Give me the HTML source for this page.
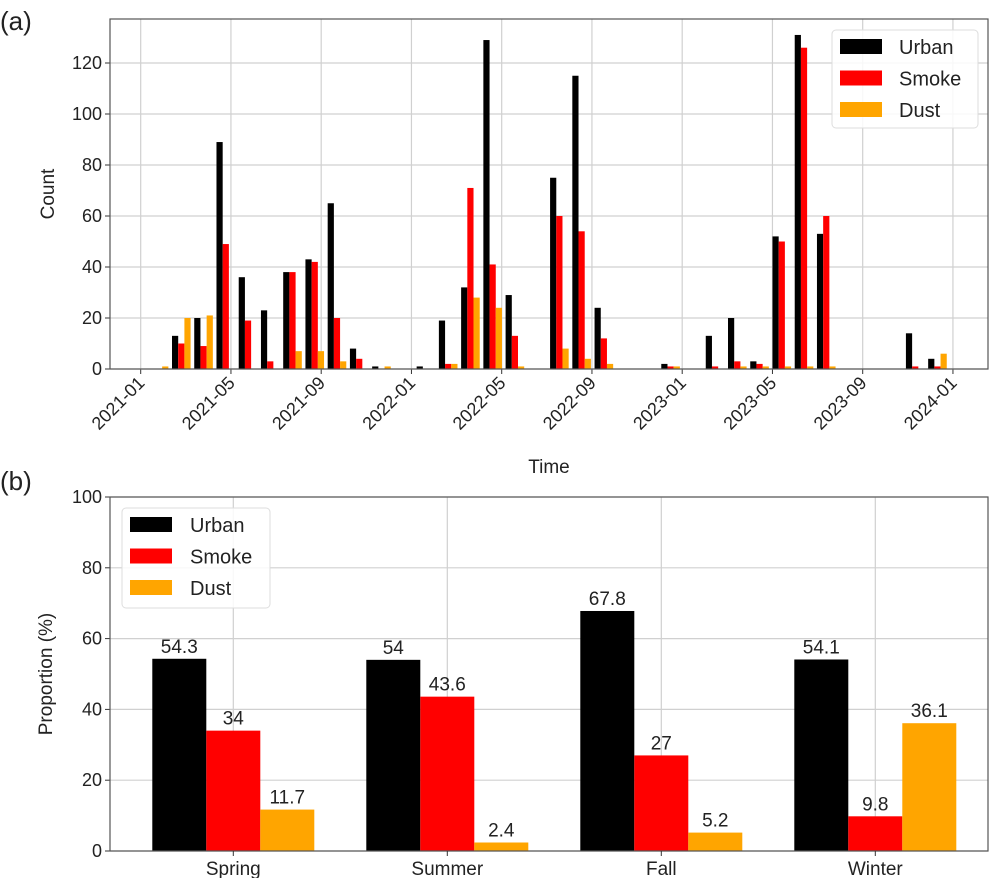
<!DOCTYPE html>
<html><head><meta charset="utf-8"><style>
body{margin:0;background:#fff;}
svg{display:block;font-family:"Liberation Sans","DejaVu Sans",sans-serif;}
</style></head><body>
<svg id="fig" width="1004" height="878" viewBox="0 0 1004 878">
<text x="0" y="30" font-size="26" fill="#222">(a)</text>
<text x="0" y="490" font-size="26" fill="#222">(b)</text>
<g id="topchart"></g>
<g id="botchart"></g>
</svg>
<script>
// ---- Panel (a) data ----
const monthIdx = [1,2,3,4,5,6,7,8,9,10,11,13,14,15,16,17,19,20,21,24,26,27,28,29,30,31,35,36];
const urbanCounts = [0,13,20,89,36,23,38,43,65,8,1,1,19,32,129,29,75,115,24,2,13,20,3,52,131,53,14,4];
const smokeCounts = [0,10,9,49,19,3,38,42,20,4,0,0,2,71,41,13,60,54,12,1,1,3,2,50,126,60,1,1];
const dustCounts  = [1,20,21,0,0,0,7,7,3,0,1,0,2,28,24,1,8,4,2,1,0,1,1,1,1,1,0,6];
const countTicks = [0,20,40,60,80,100,120];
const timeTickLabels = ["2021-01","2021-05","2021-09","2022-01","2022-05","2022-09","2023-01","2023-05","2023-09","2024-01"];
// ---- Panel (b) data ----
const seasons = ["Spring","Summer","Fall","Winter"];
const urbanPct = [54.3,54,67.8,54.1];
const smokePct = [34,43.6,27,9.8];
const dustPct  = [11.7,2.4,5.2,36.1];
const pctTicks = [0,20,40,60,80,100];

const NS="http://www.w3.org/2000/svg";
function mk(parent,tag,attrs,text){const e=document.createElementNS(NS,tag);for(const k in attrs)e.setAttribute(k,attrs[k]);if(text!==undefined)e.textContent=text;parent.appendChild(e);return e;}
const colors=["#000000","#ff0000","#ffa500"];
const names=["Urban","Smoke","Dust"];

// ---- Panel (a) ----
const topG=document.getElementById('topchart');
const A={l:110,r:988,t:19,b:369};
const yA=v=>A.b-v*2.55;
const xMonth=m=>181.3+(m-2)*22.24;
const xTimeTick=i=>140.7+i*90.25;
for(let i=0;i<timeTickLabels.length;i++){
  const x=xTimeTick(i);
  const g=mk(topG,'line',{x1:x,x2:x,y1:A.t,y2:A.b,stroke:'#d0d0d0','stroke-width':1.2});
  
  
  mk(topG,'line',{x1:x,x2:x,y1:A.b,y2:A.b+5,stroke:'#333'});
  const t=mk(topG,'text',{x:x+5,y:A.b+15,'font-size':18,fill:'#222','text-anchor':'end',transform:`rotate(-45 ${x+5} ${A.b+15})`},timeTickLabels[i]);
  
  
}
for(const v of countTicks){
  const y=yA(v);
  const g=mk(topG,'line',{x1:A.l,x2:A.r,y1:y,y2:y,stroke:'#d0d0d0','stroke-width':1.2});
  
  
  mk(topG,'line',{x1:A.l-5,x2:A.l,y1:y,y2:y,stroke:'#333'});
  const t=mk(topG,'text',{x:A.l-8,y:y+6,'font-size':18,fill:'#222','text-anchor':'end'},String(v));
  
  
}
const seriesA=[urbanCounts,smokeCounts,dustCounts];
for(let s=0;s<3;s++){
  for(let i=0;i<monthIdx.length;i++){
    const v=seriesA[s][i]; if(!v) continue;
    const cx=xMonth(monthIdx[i])+(s-1)*6.2;
    const r=mk(topG,'rect',{x:cx-3.1,y:yA(v),width:6.2,height:A.b-yA(v),fill:colors[s]});
    
    
  }
}
mk(topG,'rect',{x:A.l,y:A.t,width:A.r-A.l,height:A.b-A.t,fill:'none',stroke:'#555','stroke-width':1.2});
let t=mk(topG,'text',{x:54,y:194,'font-size':19,fill:'#222','text-anchor':'middle',transform:'rotate(-90 54 194)'},'Count');


t=mk(topG,'text',{x:549,y:473,'font-size':19,fill:'#222','text-anchor':'middle'},'Time');


let lg=mk(topG,'g',{});


mk(lg,'rect',{x:832,y:30,width:146,height:98,rx:4,fill:'#fff','fill-opacity':0.85,stroke:'#ddd'});
for(let s=0;s<3;s++){
  const y=39+s*31.5;
  const e=mk(lg,'g',{});
  
  
  mk(e,'rect',{x:840,y:y,width:42,height:15,fill:colors[s]});
  mk(e,'text',{x:899,y:y+15,'font-size':20,fill:'#222'},names[s]);
}

// ---- Panel (b) ----
const botG=document.getElementById('botchart');
const B={l:110,r:988,t:497,b:851};
const yB=v=>B.b-v*3.54;
const xCat=i=>233.3+i*214;
for(let i=0;i<seasons.length;i++){
  const x=xCat(i);
  const g=mk(botG,'line',{x1:x,x2:x,y1:B.t,y2:B.b,stroke:'#d0d0d0','stroke-width':1.2});
  
  
}
for(const v of pctTicks){
  const y=yB(v);
  const g=mk(botG,'line',{x1:B.l,x2:B.r,y1:y,y2:y,stroke:'#d0d0d0','stroke-width':1.2});
  
  
  mk(botG,'line',{x1:B.l-5,x2:B.l,y1:y,y2:y,stroke:'#333'});
  const tt=mk(botG,'text',{x:B.l-8,y:y+6,'font-size':18,fill:'#222','text-anchor':'end'},String(v));
  
  
}
const seriesB=[urbanPct,smokePct,dustPct];
for(let s=0;s<3;s++){
  for(let i=0;i<seasons.length;i++){
    const v=seriesB[s][i];
    const cx=xCat(i)+(s-1)*54;
    const r=mk(botG,'rect',{x:cx-27,y:yB(v),width:54,height:B.b-yB(v),fill:colors[s]});
    
    
    const lb=mk(botG,'text',{x:cx,y:yB(v)-6,'font-size':19,fill:'#222','text-anchor':'middle'},String(v));
    
    
  }
}
mk(botG,'rect',{x:B.l,y:B.t,width:B.r-B.l,height:B.b-B.t,fill:'none',stroke:'#555','stroke-width':1.2});
for(let i=0;i<seasons.length;i++){
  const x=xCat(i);
  mk(botG,'line',{x1:x,x2:x,y1:B.b,y2:B.b+5,stroke:'#333'});
  const tt=mk(botG,'text',{x:x,y:B.b+24,'font-size':19,fill:'#222','text-anchor':'middle'},seasons[i]);
  
  
}
t=mk(botG,'text',{x:52,y:674,'font-size':19,fill:'#222','text-anchor':'middle',transform:'rotate(-90 52 674)'},'Proportion (%)');


lg=mk(botG,'g',{});


mk(lg,'rect',{x:122,y:508,width:148,height:100,rx:4,fill:'#fff','fill-opacity':0.85,stroke:'#ddd'});
for(let s=0;s<3;s++){
  const y=517+s*31.5;
  const e=mk(lg,'g',{});
  
  
  mk(e,'rect',{x:130,y:y,width:42,height:15,fill:colors[s]});
  mk(e,'text',{x:190,y:y+15,'font-size':20,fill:'#222'},names[s]);
}
</script>
</body></html>
